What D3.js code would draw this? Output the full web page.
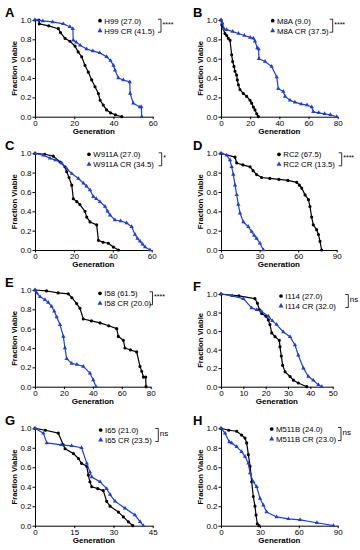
<!DOCTYPE html>
<html><head><meta charset="utf-8">
<script src="https://cdn.jsdelivr.net/npm/d3@7"></script>
<style>
body{margin:0;background:#fff;}
svg{display:block;font-family:"Liberation Sans",Arial,sans-serif;}
</style>
</head><body>
<svg id="chart" width="360" height="550"></svg>
<script>
// ---------- DATA ----------
const panelLetters = ["A","B","C","D","E","F","G","H"];
const strainNames = ["H99","M8A","W911A","RC2","I58","I114","I65","M511B"];
const wtMedians = ["27.0","9.0","27.0","67.5","61.5","27.0","21.0","24.0"];
const crMedians = ["41.5","37.5","34.5","13.5","20.0","32.0","23.5","23.0"];
const significance = ["****","****","*","****","****","ns","ns","ns"];
const xMaxes = [60,80,60,90,80,50,45,90];
const xTickValues = [[0,20,40,60],[0,20,40,60,80],[0,20,40,60],[0,30,60,90],[0,20,40,60,80],[0,10,20,30,40,50],[0,15,30,45],[0,30,60,90]];
const yTickValues = [0,0.2,0.4,0.6,0.8,1.0];

const curveA_wt = [[0,1],[2,1],[2.2,0.96],[7,0.94],[11.9,0.91],[13,0.87],[15.3,0.81],[17.8,0.78],[20.4,0.73],[22,0.67],[23.8,0.62],[25.5,0.53],[27.2,0.46],[28.9,0.38],[30.6,0.31],[32.3,0.24],[33.2,0.17],[34.8,0.12],[36.5,0.07],[38.5,0.04],[41,0.02],[44.2,0]];
const curveA_cr = [[0,1],[4,0.99],[9,0.98],[14.4,0.96],[17.8,0.93],[19.3,0.91],[19.5,0.79],[21,0.77],[23,0.74],[26.3,0.70],[29.5,0.68],[33,0.66],[36.5,0.62],[38.5,0.58],[40,0.53],[40.8,0.48],[42.5,0.40],[45,0.38],[48.3,0.36],[48.5,0.24],[50.1,0.14],[53.5,0.10],[54.2,0.10],[54.4,0]];
const curveB_wt = [[0,1],[0.6,0.95],[2.7,0.86],[3.9,0.84],[5,0.81],[6.2,0.79],[7.3,0.64],[8,0.57],[8.9,0.52],[9.6,0.47],[10.7,0.43],[11.2,0.38],[11.9,0.33],[13,0.28],[15.3,0.24],[17.6,0.21],[19.9,0.17],[21,0.14],[22.2,0.10],[23.3,0.07],[24.5,0.03],[25.6,0]];
const curveB_cr = [[0,1],[0.9,0.97],[2,0.91],[3.9,0.90],[8,0.88],[12,0.86],[16,0.84],[20,0.82],[22.2,0.81],[23.3,0.78],[24.9,0.71],[25.8,0.70],[26,0.60],[30.2,0.57],[34.7,0.52],[38.2,0.41],[39.3,0.29],[42.7,0.26],[43.9,0.21],[47.3,0.17],[50.7,0.15],[55,0.13],[59,0.12],[62.2,0.10],[63.3,0.05],[67,0.04],[71,0.03],[75,0.02],[79.3,0]];
const curveC_wt = [[0,1],[5,0.99],[9.4,0.97],[12.9,0.91],[15.4,0.86],[16.3,0.81],[17.5,0.75],[18.9,0.67],[19.7,0.53],[21.5,0.50],[23.1,0.47],[25.7,0.40],[26.6,0.34],[28.3,0.29],[31.7,0.26],[32.6,0.10],[35,0.08],[37.7,0.07],[40.3,0.03],[42.9,0]];
const curveC_cr = [[0,1],[4.3,0.98],[7.7,0.95],[10.5,0.93],[13.7,0.90],[16.3,0.84],[18.9,0.79],[22.3,0.74],[24.9,0.69],[26.5,0.66],[28.3,0.62],[30,0.55],[31.5,0.53],[33.4,0.50],[36,0.45],[37.3,0.40],[38.6,0.36],[41.1,0.31],[44,0.30],[47.1,0.28],[49.7,0.24],[51.4,0.16],[52.7,0.12],[54,0.09],[55.3,0.06],[56.6,0.03],[59.1,0]];
const curveD_wt = [[0,1],[10.9,0.96],[12.2,0.90],[17,0.88],[22.6,0.86],[25,0.82],[27.7,0.78],[31.6,0.75],[38,0.74],[45,0.73],[52,0.72],[58.9,0.70],[61,0.67],[62.8,0.64],[65.4,0.57],[68,0.52],[69.2,0.45],[70.5,0.34],[71.8,0.26],[74.4,0.21],[75.8,0.16],[77,0.09],[78.3,0]];
const curveD_cr = [[0,1],[4.4,0.98],[7,0.93],[8.3,0.86],[9.6,0.78],[10.9,0.67],[12.2,0.57],[13.5,0.47],[14.8,0.38],[17.4,0.29],[21.3,0.24],[23.9,0.19],[25.8,0.15],[27.7,0.12],[30.3,0.07],[33,0]];
const curveE_wt = [[0,1],[8,0.99],[16,0.97],[23,0.96],[25.5,0.92],[28.8,0.86],[31.1,0.81],[33.4,0.70],[39,0.68],[45,0.66],[51,0.63],[56.5,0.60],[57.6,0.52],[61.1,0.48],[62.2,0.40],[66,0.38],[70.3,0.36],[72.6,0.21],[73.8,0.16],[75,0.10],[76.5,0.10],[76.8,0]];
const curveE_cr = [[0,1],[1.2,0.97],[3.5,0.93],[6.9,0.90],[9.2,0.87],[11.5,0.83],[13.3,0.78],[15,0.72],[17.3,0.64],[19.6,0.52],[20.7,0.40],[21.9,0.29],[25.4,0.24],[29,0.23],[33.4,0.21],[38,0.14],[40.3,0.07],[42.2,0]];
const curveF_wt = [[0,1],[8,0.98],[15.2,0.95],[16.3,0.90],[17.2,0.83],[18.2,0.79],[20.1,0.76],[21.2,0.72],[21.9,0.67],[22.7,0.58],[24.2,0.54],[26.1,0.50],[26.4,0.43],[27,0.33],[27.6,0.23],[28.7,0.16],[30.9,0.11],[32.4,0.07],[34.6,0.04],[38.4,0]];
const curveF_cr = [[0,1],[5,0.98],[10,0.95],[13.7,0.85],[16,0.83],[18.2,0.81],[21.2,0.76],[23,0.71],[24.9,0.67],[27.9,0.59],[30.9,0.54],[33.1,0.45],[34.6,0.34],[36.9,0.20],[39.1,0.11],[41.3,0.07],[43.6,0.02],[45.1,0]];
const curveG_wt = [[0,1],[4,0.98],[8.9,0.95],[10.8,0.83],[11.5,0.79],[14.7,0.74],[16.6,0.69],[17.8,0.64],[19.8,0.61],[20.4,0.52],[21,0.45],[21.7,0.40],[24,0.38],[26.1,0.36],[27.4,0.25],[28.7,0.20],[31.9,0.14],[33.8,0.09],[35.7,0.04],[37.4,0]];
const curveG_cr = [[0,1],[3.2,0.95],[4.5,0.85],[10,0.83],[14,0.82],[17.8,0.80],[19.8,0.64],[21,0.55],[21.7,0.50],[24.9,0.45],[27.4,0.38],[28.7,0.32],[30.6,0.25],[34.4,0.18],[38.2,0.11],[40.2,0.04],[41.4,0]];
const curveH_wt = [[0,1],[6,0.98],[12.1,0.97],[15.9,0.93],[18.5,0.90],[19.8,0.85],[21.1,0.73],[22.4,0.61],[23.7,0.45],[24.9,0.30],[26.2,0.20],[27,0.11],[28,0.02],[29.3,0]];
const curveH_cr = [[0,1],[3.1,0.95],[6.4,0.86],[8.2,0.85],[12.1,0.81],[15.9,0.76],[18.5,0.71],[21.1,0.64],[22.4,0.54],[24.9,0.45],[27.5,0.40],[30.1,0.28],[32.7,0.21],[35.2,0.14],[42.9,0.09],[52,0.07],[61,0.06],[74,0.03],[86.7,0]];

const wtCurves = [curveA_wt,curveB_wt,curveC_wt,curveD_wt,curveE_wt,curveF_wt,curveG_wt,curveH_wt];
const crCurves = [curveA_cr,curveB_cr,curveC_cr,curveD_cr,curveE_cr,curveF_cr,curveG_cr,curveH_cr];

// ---------- LAYOUT ----------
const frames = [
  {x0:35, x1:152.7, y0:20,    y1:116.7, lx:100,   ly:20.7,  bx:161},
  {x0:221,x1:337.7, y0:20,    y1:116.7, lx:272.7, ly:20.7,  bx:332.7},
  {x0:35, x1:151.7, y0:153.3, y1:250,   lx:89,    ly:154.3, bx:161.7},
  {x0:221,x1:336.7, y0:153.3, y1:250,   lx:279,   ly:154.3, bx:341.7},
  {x0:35, x1:150.7, y0:290,   y1:386.7, lx:100,   ly:293.3, bx:152.5},
  {x0:221,x1:332.7, y0:294,   y1:386.7, lx:281,   ly:296,   bx:348.3},
  {x0:35, x1:152.7, y0:428.3, y1:525.7, lx:100.7, ly:430,   bx:158.3},
  {x0:221,x1:337.7, y0:428.3, y1:525.7, lx:271.7, ly:429,   bx:341}
];
const BLUE = "#1f3fd4";
const svg = d3.select("#chart");
const circleSym = d3.symbol().type(d3.symbolCircle).size(8);
const triSym = d3.symbol().type(d3.symbolTriangle).size(8);

frames.forEach((f, i) => {
  const x = d3.scaleLinear().domain([0, xMaxes[i]]).range([f.x0, f.x1]);
  const y = d3.scaleLinear().domain([0, 1]).range([f.y1, f.y0]);
  const g = svg.append("g");

  // axes
  const xa = g.append("g").attr("transform", `translate(0,${f.y1})`)
    .call(d3.axisBottom(x).tickValues(xTickValues[i]).tickSizeInner(2.5).tickSizeOuter(0).tickPadding(1));
  const ya = g.append("g").attr("transform", `translate(${f.x0},0)`)
    .call(d3.axisLeft(y).tickValues(yTickValues).tickFormat(d3.format(".1f")).tickSizeInner(2.5).tickSizeOuter(0).tickPadding(1));
  [xa, ya].forEach(a => {
    a.selectAll("text").attr("font-size", 8).attr("fill", "#000").attr("font-family", '"Liberation Sans",Arial,sans-serif');
    a.selectAll("line,path").attr("stroke", "#000").attr("stroke-width", 1);
  });

  // titles
  g.append("text").attr("x", (f.x0 + f.x1) / 2).attr("y", f.y1 + 17)
    .attr("text-anchor", "middle").attr("font-size", 8).attr("font-weight", "bold").text("Generation");
  g.append("text").attr("transform", `translate(${f.x0 - 18},${(f.y0 + f.y1) / 2}) rotate(-90)`)
    .attr("text-anchor", "middle").attr("font-size", 7.7).attr("font-weight", "bold").text("Fraction Viable");
  g.append("text").attr("x", i % 2 === 0 ? 5 : 193).attr("y", f.y0 - 3)
    .attr("font-size", 13).attr("font-weight", "bold").text(panelLetters[i]);

  // curves
  const line = d3.line().x(d => x(d[0])).y(d => y(d[1])).curve(d3.curveLinear);
  const series = [
    {data: wtCurves[i], color: "#000", sym: circleSym},
    {data: crCurves[i], color: BLUE, sym: triSym}
  ];
  series.forEach(s => {
    g.append("path").datum(s.data).attr("d", line).attr("fill", "none")
      .attr("stroke", s.color).attr("stroke-width", 1.2).attr("stroke-linejoin", "round");
    g.append("g").selectAll("path").data(s.data).join("path")
      .attr("d", s.sym).attr("fill", s.color)
      .attr("transform", d => `translate(${x(d[0])},${y(d[1])})`);
  });

  // legend
  const labels = [`${strainNames[i]} (${wtMedians[i]})`, `${strainNames[i]} CR (${crMedians[i]})`];
  const lg = g.append("g");
  series.forEach((s, k) => {
    const yy = f.ly + k * 10;
    lg.append("path").attr("d", d3.symbol().type(k === 0 ? d3.symbolCircle : d3.symbolTriangle).size(11))
      .attr("fill", s.color).attr("transform", `translate(${f.lx},${yy})`);
    lg.append("text").attr("x", f.lx + 4.3).attr("y", yy + 2.8).attr("font-size", 7.8).attr("fill", "#000").text(labels[k]);
  });

  // significance bracket
  const bt = f.ly - 1.5, bb = f.ly + 11.5;
  g.append("path").attr("d", `M${f.bx - 3},${bt}H${f.bx}V${bb}H${f.bx - 3}`)
    .attr("fill", "none").attr("stroke", "#000").attr("stroke-width", 0.8);
  const sig = significance[i];
  g.append("text").attr("x", f.bx + 1.5).attr("y", sig === "ns" ? bt + 7 : bt + 7.5)
    .attr("font-size", sig === "ns" ? 8 : 7).attr("fill", "#000").text(sig);
});
</script>
</body></html>
